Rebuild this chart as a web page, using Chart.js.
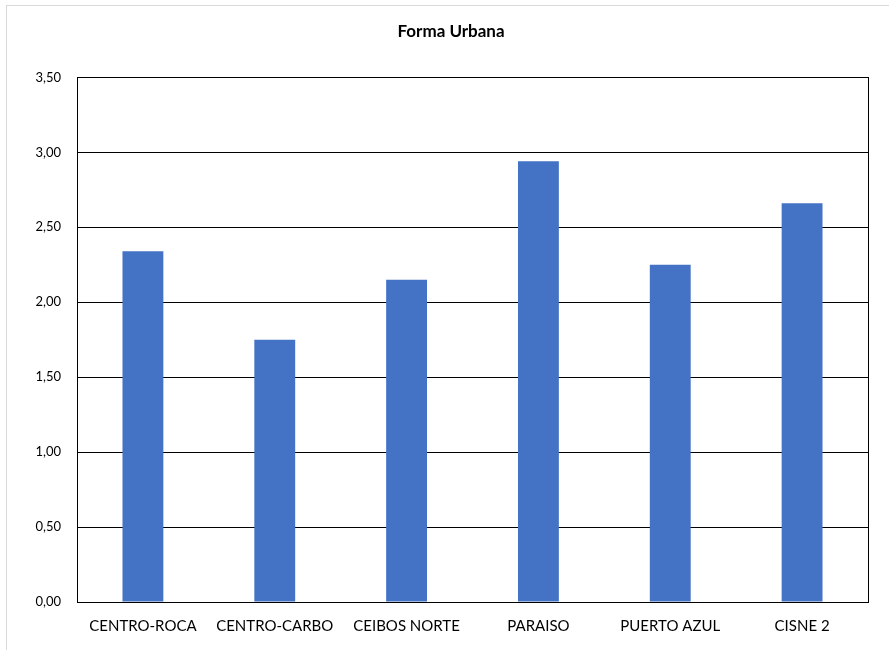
<!DOCTYPE html>
<html>
<head>
<meta charset="utf-8">
<script src="https://cdn.jsdelivr.net/npm/chart.js@4/dist/chart.umd.min.js"></script>
<style>
    html, body { margin: 0; padding: 0; background: #fff; overflow: hidden; }
    #wrap { position: relative; width: 889px; height: 650px; }
    #frame { position: absolute; left: 6px; top: 5px; width: 900px; height: 700px; border: 1px solid #d9d9d9; box-sizing: border-box; }
    canvas { position: absolute; left: 0; top: 0; }
</style>
</head>
<body>
<div id="wrap">
    <div id="frame"></div>
    <canvas id="formaChart" width="889" height="650"></canvas>
</div>
<script>
    const barrios = ['CENTRO-ROCA', 'CENTRO-CARBO', 'CEIBOS NORTE', 'PARAISO', 'PUERTO AZUL', 'CISNE 2'];
    const formaUrbana = [2.34, 1.75, 2.15, 2.94, 2.25, 2.66];
    const yTicks = [0, 0.5, 1, 1.5, 2, 2.5, 3, 3.5];

    // box around the plotting area
    const plotBorder = {
        id: 'plotBorder',
        afterDraw(chart) {
            const a = chart.chartArea;
            const c = chart.ctx;
            c.save();
            c.strokeStyle = '#000';
            c.lineWidth = 1;
            c.strokeRect(Math.round(a.left) + 0.5, Math.round(a.top) + 0.5,
                Math.round(a.right - a.left), Math.round(a.bottom - a.top));
            c.restore();
        }
    };

    const ctx = document.getElementById('formaChart').getContext('2d');
    const formaChart = new Chart(ctx, {
        type: 'bar',
        data: {
            labels: barrios,
            datasets: [{
                label: 'Forma Urbana',
                data: formaUrbana,
                backgroundColor: '#4472C4',
                borderWidth: 0,
                barPercentage: 0.31,
                categoryPercentage: 1
            }]
        },
        options: {
            responsive: false,
            animation: false,
            layout: { padding: { left: 34, right: 21, top: 10, bottom: 0 } },
            plugins: {
                legend: { display: false },
                tooltip: { enabled: false },
                title: {
                    display: true,
                    text: 'Forma Urbana',
                    color: '#000',
                    font: { family: 'Lato, "Open Sans", sans-serif', size: 17, weight: 'bold' },
                    padding: { top: 11, bottom: 36 }
                }
            },
            scales: {
                x: {
                    grid: { display: false, drawTicks: false },
                    border: { color: '#000' },
                    ticks: {
                        color: '#000',
                        padding: 15,
                        maxRotation: 0,
                        font: { family: 'Lato, "Open Sans", sans-serif', size: 15 }
                    }
                },
                y: {
                    min: 0,
                    max: 3.5,
                    afterFit(scale) { scale.width = 43; },
                    afterBuildTicks(scale) { scale.ticks = yTicks.map(v => ({ value: v })); },
                    grid: { color: '#000', drawTicks: false },
                    border: { color: '#000' },
                    ticks: {
                        color: '#000',
                        padding: 16,
                        font: { family: 'Lato, "Open Sans", sans-serif', size: 13 },
                        callback: v => v.toFixed(2).replace('.', ',')
                    }
                }
            }
        },
        plugins: [plotBorder]
    });
</script>
</body>
</html>
